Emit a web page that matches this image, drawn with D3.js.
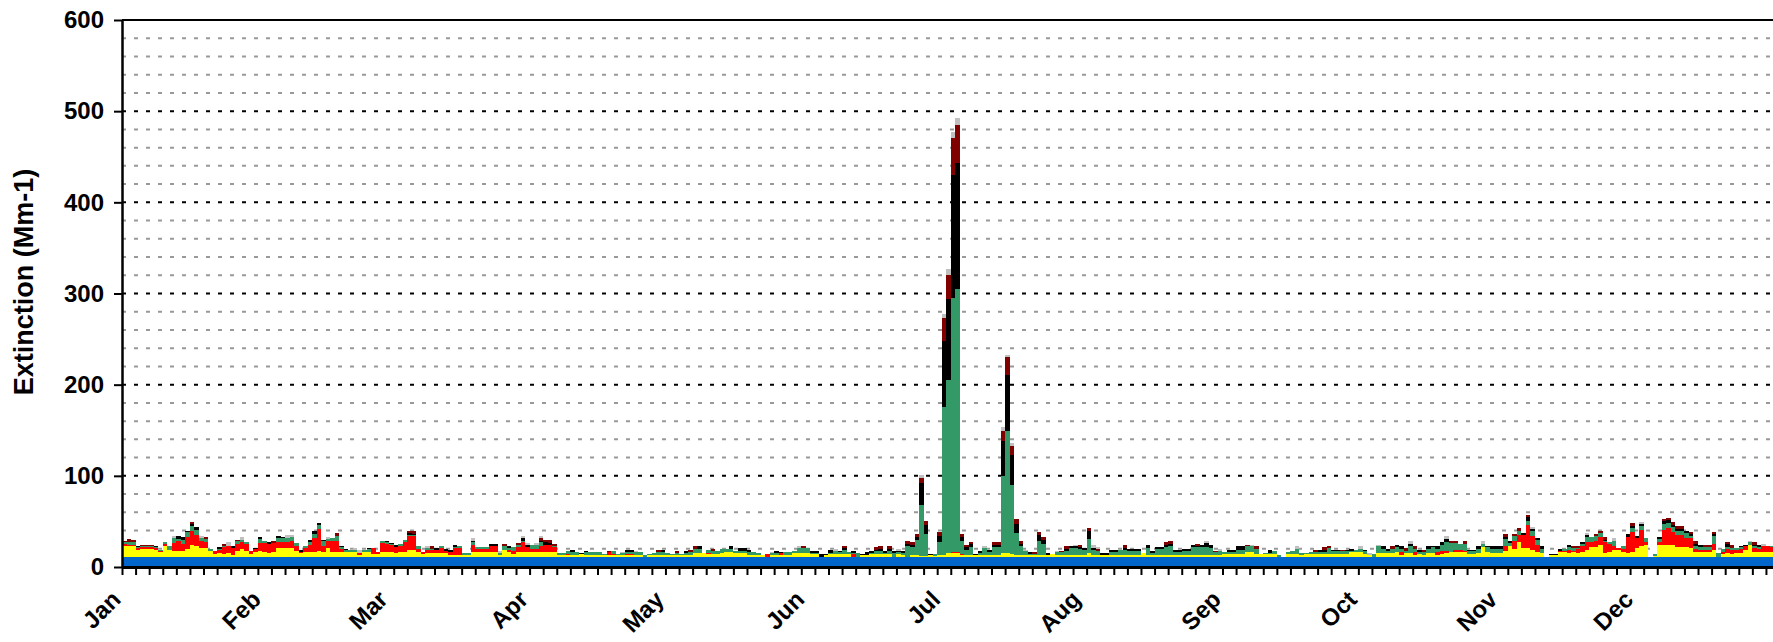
<!DOCTYPE html>
<html><head><meta charset="utf-8">
<script src="https://cdn.jsdelivr.net/npm/d3@7"></script>
<style>
body{margin:0;background:#fff}
svg{display:block}
text{font-family:"Liberation Sans",Arial,sans-serif;font-weight:bold;fill:#000}
</style>
</head><body>
<svg id="chart" width="1773" height="642"></svg>
<script>
// ---------------- data ----------------
const monthLabels = ["Jan","Feb","Mar","Apr","May","Jun","Jul","Aug","Sep","Oct","Nov","Dec"];
const monthStartDays = [0,31,59,90,120,151,181,212,243,273,304,334];
const yTickValues = [0,100,200,300,400,500,600];
const yAxisTitle = "Extinction (Mm-1)";
const rayleigh = 11.5; // constant Rayleigh scattering, Mm-1

const sulfate = [
11,11,11,7,8,8,8,7,5,11,
7,6,6,6,8,13,11,9.5,9.5,6.5,
3,4,3,4,2,6,8,6,3,5.5,
6,5.5,4,5.5,9.5,9.5,9.5,9.5,6.5,3.5,
5.5,5.5,5.5,6.5,5.5,9.5,5.5,5.5,5.5,5.5,
5.5,5.5,2,5.5,5.5,2.5,2.5,5.5,5.5,5.5,
3.5,4.5,4.5,7.5,7.5,5,3,4,4,4,
4,4,2,2,2,2,2,5,5,5,
5,5,5,2,7.5,5,3,5,5,5,
5,5,5,5,5,5,2,2,1.5,2,
2,2.5,2,1.5,1.5,1.5,1.5,1.5,1.5,1.5,
1.5,1.5,1.5,1.5,1.5,0,1.5,1.5,1.5,1.5,
1.5,1.5,1.5,1.5,1.5,1.5,3.5,3.5,3.5,2.5,
3,3,4,4.5,5.5,3.5,3.5,3.5,2,2,
2,2,0,2,2,2,2,2,3.5,3.5,
3.5,3.5,3,2.5,0,2,2.5,2.5,2.5,2.5,
2.5,0,0,1.5,1.5,2.5,2.5,2.5,2.5,2.5,
0,2.5,2,0,1.5,1.5,1,1,1.5,1,
1.5,1.5,3.5,4,4,2,1.5,1.5,1.5,1.5,
2,2,2,2,4,4,3,2,2,2,
2,2,2,2,2,2.5,2,2,2,2,
2,2,2,3.5,2,2,2,2,2,2,
2,2,2,2,2,3.5,2,2,2,2,
2,2,2,2,2,2,2,2,2,2,
2,2,2,2.5,2.5,2.5,2.5,2.5,5.5,5.5,
2.5,2.5,2.5,2.5,2.5,0,0,2.5,2.5,2.5,
2,2.5,2.5,2.5,2.5,2.5,2.5,2.5,2.5,2.5,
2.5,4.5,4.5,5,2.5,2,0,3.5,3.5,3.5,
3.5,5.5,2,3.5,3.5,2,2.5,2,3.5,3.5,
2,3,3.5,5.5,4.5,4.5,4.5,2.5,2.5,3.5,
10,5.5,3.5,3.5,3.5,6.5,11,8.5,16,9,
9,7.5,5.5,3.5,0,1.5,1.5,4.5,4.5,3.5,
4.5,3.5,5.5,7.5,10,10,13,3.5,5.5,7.5,
7.5,5.5,3.5,5.5,9,11,13,0,0.5,13,
13,13,13,10,10,10,9,5.5,5.5,5.5,
5.5,7.5,0,2.5,3.5,2.5,3.5,3.5,7.5,13,
5.5,5.5,5.5,5.5,5.5];

const nitrate = [
2.5,2,2,2,2,2,2,2,1.5,2.5,
0,9,11,8,13,15.5,13,7.5,6.5,0,
3,3.5,7.5,7.5,7.5,7.5,7.5,7.5,3,2.5,
8.5,9.5,10,9,6.5,6,6.5,8,5,2,
3.5,7.5,14.5,24,5.5,7.5,12,12,3,0,
0,0,2,0,0,7,3,9,8,7,
7,7,11,14.5,14.5,3.5,1.5,3.5,3.5,3.5,
5,2,3.5,7.5,7,0,0,7.5,3.5,3.5,
3.5,6,6,0,0,2.5,3.5,5.5,11,5.5,
3,3,7,7.5,7.5,5,0,0,1.5,0,
0,0,0,0,0,0,0,3,1,0,
0,1.5,1.5,0,0,0,0,0,0,0,
0,0,0,0,0,0,0,0,0,1,
0,0,0,1,0,0,0,0,0,0,
0,0,2.5,0,0,1.5,0,0,0,0,
0,0,0,0,0,0,0,0,0,0,
0,2.5,0,0,0,0,0,0,0,0,
0,0,0,0,0,0,0,0,0,0,
0,0,0,1,1,1,0,0,0,0,
0,0,0,0,0,0,0,0,0,0,
0,0,0,0,0,0,0,0,0,0,
0,0,0,0,0,0,0,0,0,0,
0,0,0,0,0,0,0,0,0,0,
0,0,0,0,0,0,0,0,0,0,
0,0,0,0,0,0,0,0,0,0,
0,0,0,0,0,0,0,0,0,0,
0,0,0,0,0,0,0,0,0,0,
0,0,0,0,0,0,0,0,0,0,
0,0,2.5,0,0,2.5,0,0,0,0,
2.5,3,3,0,3,3,2,0,0,0,
0,0,0,0,0,5,0,9,8,15,
26,15,7.5,0,0,0,0,2,2,3.5,
2,4.5,5.5,8.5,6,7.5,8.5,12,8,3.5,
2,3,18,21.5,11,18,3,0,0,3,
16.5,18.5,13.5,14,14,10.5,11,2.5,2,2,
2,6.5,0,3,4.5,5,3.5,5,3.5,0,
3.5,3,5.5,5.5,4.5];

const organic = [
2,3,3,1,1,1.5,1,1,1,2.5,
4,5.5,2,4,5.5,5,5.5,3.5,3.5,1.5,
0,1,1,0,0,3,2.5,2,0,0,
5,2,0,0,4.5,4.5,4.5,3.5,3.5,0,
3,3,4.5,4.5,5.5,2,3,5,1.5,2,
2,2,0,2,2.5,0,0,2,2,1,
0,2,3,1.5,1.5,2.5,0,1.5,0.5,0,
3,0,0,1,2,1.5,1.5,3,2,2,
1.5,0,0,1.5,4,2,3.5,2,1.5,0,
4.5,4.5,3.5,0,0,1.5,1.5,1.5,3.5,3.5,
2.5,0,2.5,3.5,3.5,3.5,1.5,0,3.5,1.5,
2.5,1.5,2,3,3,2,1,2,3.5,4,
2,1.5,2.5,1.5,2.5,3,5,5,0.5,3.5,
3,3.5,4,3,3,2.5,3,3,2.5,3,
1.5,0,0,1.5,1.5,0,3,3.5,3,5.5,
5.5,5.5,1,1.5,0,0,1.5,4,2,5,
2.5,1,3.5,0,0,1,3.5,3.5,1.5,3.5,
4,2,2,11,9,17,55,24,0,2,
14,162,190,279,288,14,6,8.5,0,2,
7,2.5,8,8,84,134,75,24,9,4,
1,1,15.5,11.5,0,0,3,3,4,7,
7,6.5,5,16,5,4,0,0,3,3,
5.5,5,4,4,4,0,7,2,6,6,
8.5,10,3,3,4,4,8,8,8,8.5,
7,3,4,3,3,3,5,5,5.5,5.5,
6,0,1,1.5,4,2,0,2,3.5,6,
1.5,1.5,2.5,3,3,3,7,3.5,3.5,3.5,
3.5,2,3,3,3.5,0,2.5,7.5,5,3,
5,4.5,4,3,7.5,4,3,3,5,6.5,
4,6.5,9.5,9.5,7.5,6.5,7,3.5,3.5,5,
3.5,4.5,5,5,5,7.5,4,5,4.5,0,
4.5,5,5,5,0,0,0,0,2,3,
2.5,1,2.5,5.5,5.5,5,4.5,1,2,6.5,
0,3.5,0,4.5,0,4.5,4.5,0,2.5,3,
6.5,5.5,6,3.5,3.5,5,2.5,3,3,3,
3,8.5,3.5,2.5,2,2,2,1.5,0,2.5,
2,2,0,0,1];

const elemental = [
0,0,0,1.5,1,0.5,0.5,1.5,0,0,
0,0,3,3,2,2,2.5,0,0,0,
0,1.5,0,0,2,0,0,0,0,1,
2,0,2,0,2,1.5,0,0,0,2,
0,2.5,3,2,2,0,0,0,1,1,
0,0,0,0,1.5,0,0,0,1.5,1.5,
2,0,0,2,1.5,0,0,0,0,1.5,
0,2,2,2.5,0,0,0,2,0,0,
0,3,2.5,0,0,2,0,0,3,2,
0,0,2,3.5,2.5,0,0,0,0,2,
0,1.5,2,0,0,0,0,0,0,0,
0,2.5,2.5,0,0,0,0,0,0,1.5,
0,0,0,0,2.5,0,0,3,0,0,
0,0,0,0,3.5,0,2.5,2.5,2.5,0,
0,0,0,0,2.5,2,0,0,0,0,
0,0,2.5,2,3,1,3,0,1.5,2,
0,3,0,1.5,3,3,1.5,2.5,2.5,2.5,
2.5,2,2,3,2.5,3,24.5,10,1.5,0,
6.5,73,89,134,139,4.5,2.5,3.5,1.5,2.5,
0,2.5,2.5,2.5,39,61.5,33,10,2.5,0,
2,0,6.5,4.5,1.5,0,0,0,2.5,2,
2,1.5,2.5,8.5,2.5,0,1.5,1.5,2.5,2.5,
0,2.5,2,2,2,0,3.5,2.5,2,2,
2,2,2.5,2,2,2,2.5,2,2.5,4,
3.5,0,0,0,2,2,3.5,3.5,0,0,
0,0,0,3,0,0,0,0,0,0,
0,0,0,0,1.5,2,0,1.5,1.5,0,
1.5,1.5,0,0,1.5,0,0,0,3.5,1.5,
0,2.5,3.5,0,2.5,0,1.5,0,3.5,2,
3.5,3.5,3.5,0,0,0,0,1.5,1.5,3.5,
0,2,3.5,3.5,3.5,2,1.5,0,0,2,
4,2.5,2.5,3.5,0,1,1,2,0,2.5,
0,0,2,2.5,0,0,0,2,0,0,
0,0,3.5,2,2,2,0,0,0,2.5,
2.5,3,2.5,3,3,2.5,2,2.5,2.5,0,
0,2.5,0,0,3.5,0,0,2,2,0,
2,2.5,0,1,0];

const soil = [
1.5,3,2,0,0.5,1,1,0,0,0,
0,0,0,0,0,2,0,0,2,0,
0,0,2,0,0,1.5,0,0,0,0,
0,0,0,2,0,0,0,0,0,0,
0,0,0,0,0,0,0,3,0,0,
0,0,0,0,0,0,0,1,0,0,
0,0,0,2.5,3.5,0,0,0,3,0,
0,0,0,0,0,0,0,0,0,0,
0,0,0,0,2,0,0,2,0,0,
0,0,3,2,3.5,2,0,0,0,0,
0,0,0,0,0,0,0,2,0,0,
0,0,0,0,0,0,0,0,2,0,
0,0,2.5,0,0,2.5,3,0,0,0,
2.5,0,0,0,0,0,0,0,0,0,
0,0,0,0,0,0,0,0,0,0,
3,0,0,0,0,0,0,0,0,2,
0,0,0,0,0,0,2.5,3,0,3,
0,0,0,2.5,3,3.5,5.5,4.5,0,0,
4.5,25,26.5,41,41,3.5,2.5,2.5,0,0,
0,0,3,3,11,19,10,5,3,0,
0,2,3,3.5,0,0,0,1.5,3,0,
0,3,0,3.5,0,2,0,0,0,0,
0,3,0,0,0,0,0,0,0,0,
3,3,0,0,0,0,0,2,0,0,
0,1.5,0,0,0,0,0,0,2,0,
3.5,0,0,0,0,0,0,0,0,0,
0,0,0,1.5,0,2.5,1.5,0,0,1.5,
0,0,0,0,0,0,0,0,0,0,
3.5,0,0,2.5,0,3.5,0,2.5,0,0,
0,0,0,2.5,2.5,0,3.5,0,0,0,
0,0,0,0,0,3.5,0,2.5,3,0,
2.5,0,0,0,0,0,0,0,0,0,
3,3,0,0,0,2.5,2.5,2.5,0,0,
0,0,0,3,0,0,0,0,0,0,
2.5,2.5,3,2.5,2.5,0,2.5,3,0,2.5,
2.5,2,0,0,2,3,0,0,0,0,
3,0,0,0,0];

const coarse = [
0,0,0,0,0,0,0,0,0,0,
0,2,0,0,0,0,0,2,0,0,
0,0,0,4.5,0,0,3,0,0,0,
0,0,0,0,0,0,3,3,0,0,
0,0,0,0,0,2.5,0,0,0,0,
0,1.5,3,0,0,0,0,0,0,0,
0,0,0,0,0,0,0,3,0,0,
0,0,0,0,0,0,0,3,0,0,
0,0,0,3,0,0,0,0,2,2,
0,2.5,1.5,0,0,0,0,0,0,0,
0,0,0,0,0,0,0,0,0,0,
1.5,0,0,1.5,0,0,0,0,0,0,
0,0,0,0,0,0,0,0,0,0,
0,0,0,0,0,0,0,0,0,0,
0,0,0,2,0,0,0,0,0,2.5,
0,0,0,0,0,0,0,2,0,0,
0,0,0,0,0,0,0,0,0,0,
0,2,0,0,0,0,3,0,0,0,
0,4.5,6,6.5,8.5,0,0,0,0,0,
2.5,0,0,0,4.5,3,3,0,0,1.5,
0,0,0,0,0,0,1.5,0,0,0,
2,0,0,0,3,2.5,0,0,0,0,
0,0,0,0,0,0,0,0,0,0,
0,0,0,0,0,0,0,0,0,3,
0,0,2,0,0,0,0,0,0,2,
0,0,0,0,0,0,0,0,0,3.5,
0,0,0,0,0,0,0,0,0,0,
0,0,0,3,0,1.5,0,2,0,0,
0,0,0,0,3,0,0,0,0,0,
0,0,2.5,0,0,0,0,0,0,0,
3,0,0,0,0,0,0,0,0,0,
0,2.5,0,0,0,0,0,0,0,0,
0,0,0,2,0,0,0,0,0,3,
0,0,0,0,0,2,0,0,0,0,
0,0,0,0,0,0,0,0,0,0,
0,0,0,0,0,0,0,0,0,2,
0,0,2.5,0,0];

const seriesKeys = ["rayleigh","sulfate","nitrate","organic","elemental","soil","coarse"];
const seriesColors = {
  rayleigh:"#0066CC", sulfate:"#FFFF00", nitrate:"#FF0000", organic:"#339966",
  elemental:"#000000", soil:"#800000", coarse:"#C0C0C0"
};

// ---------------- chart ----------------
const svg = d3.select("#chart");
const plotLeft = 122, plotRight = 1775, plotTop = 20, plotBottom = 567;
const x = d3.scaleLinear().domain([0, 365]).range([plotLeft, plotRight]);
const y = d3.scaleLinear().domain([0, 600]).range([plotBottom, plotTop]);
const FONT = '"Liberation Sans", Arial, sans-serif';

const rows = sulfate.map((v, i) => ({
  day: i, rayleigh: rayleigh, sulfate: v, nitrate: nitrate[i], organic: organic[i],
  elemental: elemental[i], soil: soil[i], coarse: coarse[i]
}));

// grid
const minorGrid = d3.range(20, 600, 20).filter(v => v % 100 !== 0);
const majorGrid = yTickValues.filter(v => v > 0 && v < 600);
svg.append("g").selectAll("line").data(minorGrid).join("line")
  .attr("x1", plotLeft).attr("x2", 1773).attr("y1", d => y(d)).attr("y2", d => y(d))
  .attr("stroke", "#999").attr("stroke-width", 2).attr("stroke-dasharray", "4,8");
svg.append("g").selectAll("line").data(majorGrid).join("line")
  .attr("x1", plotLeft).attr("x2", 1773).attr("y1", d => y(d)).attr("y2", d => y(d))
  .attr("stroke", "#000").attr("stroke-width", 2).attr("stroke-dasharray", "4,8");

// bars
const stacked = d3.stack().keys(seriesKeys)(rows);
svg.append("g").attr("shape-rendering", "crispEdges")
  .selectAll("g").data(stacked).join("g").attr("fill", d => seriesColors[d.key])
  .selectAll("rect").data(d => d).join("rect")
  .attr("x", d => x(d.data.day))
  .attr("width", d => x(d.data.day + 1) - x(d.data.day))
  .attr("y", d => y(d[1]))
  .attr("height", d => Math.max(0, y(d[0]) - y(d[1])));

// top frame line
svg.append("line").attr("x1", plotLeft).attr("x2", 1773).attr("y1", plotTop).attr("y2", plotTop)
  .attr("stroke", "#000").attr("stroke-width", 2);

// y axis
const yAxis = svg.append("g").attr("transform", `translate(${plotLeft},0)`)
  .call(d3.axisLeft(y).tickValues(yTickValues).tickSize(8).tickPadding(10).tickSizeOuter(0));
yAxis.select(".domain").attr("stroke-width", 2.5);
yAxis.selectAll(".tick line").attr("stroke-width", 2);
yAxis.selectAll(".tick text").style("font-size", "24px").style("font-weight", "bold")
  .style("font-family", FONT);

// x axis (minor ticks every 3 days)
const xAxis = svg.append("g").attr("transform", `translate(0,${plotBottom})`)
  .call(d3.axisBottom(x).tickValues(d3.range(0, 365, 3)).tickSize(8).tickFormat("").tickSizeOuter(0));
xAxis.select(".domain").attr("stroke-width", 3);
xAxis.selectAll(".tick line").attr("stroke-width", 2);

// month labels
svg.append("g").selectAll("text").data(monthLabels).join("text")
  .attr("transform", (d, i) => `translate(${x(monthStartDays[i])},601) rotate(-45)`)
  .attr("text-anchor", "end")
  .style("font-size", "24px")
  .text(d => d);

// y title
svg.append("text")
  .attr("transform", "translate(33,282) rotate(-90)")
  .attr("text-anchor", "middle")
  .style("font-size", "27px")
  .text(yAxisTitle);
</script>
</body></html>
